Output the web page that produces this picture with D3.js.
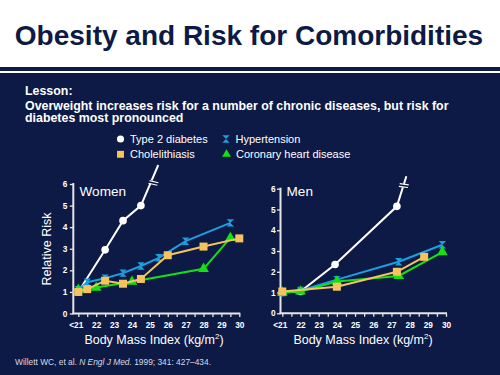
<!DOCTYPE html>
<html><head><meta charset="utf-8">
<script src="https://cdn.jsdelivr.net/npm/d3@7"></script>
<style>
html,body{margin:0;padding:0;background:#fff;}
svg{display:block;font-family:"Liberation Sans",Arial,Helvetica,sans-serif;}
</style></head>
<body>
<svg id="c" width="500" height="375"></svg>
<script>
// ---------- data ----------
const bmiTickValues = [21,22,23,24,25,26,27,28,29,30];
const bmiTickLabels = ["<21","22","23","24","25","26","27","28","29","30"];
const riskTicks = [0,1,2,3,4,5,6];

// Women
const womenDiabetes     = [[21,1.0],[22.5,2.95],[23.5,4.3],[24.5,5.0]];
const womenDiabetesCont = [25.47,6.88];   // line continues off the scale
const womenDiabetesBreak = [25.2,6.05];
const womenHypertension = [[21,1.1],[21.5,1.45],[22.5,1.63],[23.5,1.87],[24.5,2.2],[25.5,2.58],[27,3.35],[29.5,4.2]];
const womenCholelith    = [[21,1.0],[21.5,1.13],[22.5,1.52],[23.5,1.38],[24.5,1.6],[26,2.7],[28,3.1],[30,3.48]];
const womenCHD          = [[21,1.1],[22,1.2],[24,1.47],[28,2.07],[29.5,3.5]];

// Men
const menDiabetes     = [[21,1.0],[22,1.05],[23.9,2.35],[27.3,5.15]];
const menDiabetesCont = [27.82,6.6];
const menDiabetesBreak = [27.68,6.15];
const menHypertension = [[21,1.0],[22,1.1],[24,1.62],[27.4,2.48],[29.8,3.3]];
const menCholelith    = [[21,1.05],[24,1.28],[27.3,2.0],[28.8,2.72]];
const menCHD          = [[21,1.0],[22,1.05],[24,1.53],[27.4,1.8],[29.8,2.95]];

const legendItems = [
  {name:"Type 2 diabetes", key:"diab"},
  {name:"Hypertension", key:"hyp"},
  {name:"Cholelithiasis", key:"chol"},
  {name:"Coronary heart disease", key:"chd"}
];

// ---------- styles ----------
const NAVY = "#0c1a45";
const COLORS = {diab:"#ffffff", hyp:"#1d9fe0", chol:"#f6c35e", chd:"#14e014"};
const AXIS = "#e6e6e6";

const svg = d3.select("#c");

// background / header
svg.append("rect").attr("x",0).attr("y",0).attr("width",500).attr("height",375).attr("fill",NAVY);
svg.append("rect").attr("x",0).attr("y",0).attr("width",500).attr("height",67).attr("fill","#ffffff");
svg.append("rect").attr("x",0).attr("y",71).attr("width",500).attr("height",2).attr("fill","#ffffff");

svg.append("text").attr("x",249).attr("y",45).attr("text-anchor","middle")
  .attr("font-size",28).attr("font-weight","bold").attr("fill",NAVY)
  .text("Obesity and Risk for Comorbidities");

const lesson = svg.append("g").attr("fill","#ffffff").attr("font-weight","bold").attr("font-size",12.4);
lesson.append("text").attr("x",25).attr("y",94.5).text("Lesson:");
lesson.append("text").attr("x",25).attr("y",109.5).text("Overweight increases risk for a number of chronic diseases, but risk for");
lesson.append("text").attr("x",25).attr("y",122).text("diabetes most pronounced");

// markers
const hourglass = "M-3.7,-3.7H3.7L-3.7,3.7H3.7Z";
function markerPath(key){
  if(key==="diab") return d3.symbol(d3.symbolCircle, 46)();
  if(key==="chol") return d3.symbol(d3.symbolSquare, 64)();
  if(key==="chd")  return d3.symbol(d3.symbolTriangle, 50)();
  return hourglass;
}

// legend
const legPos = [[120.5,139],[226,139],[120.5,154.3],[226.5,154.3]];
legendItems.forEach((it,i)=>{
  const [lx,ly] = legPos[i];
  const g = svg.append("g");
  let p = markerPath(it.key);
  if(it.key==="chol") p = d3.symbol(d3.symbolSquare, 48)();
  if(it.key==="chd") p = d3.symbol(d3.symbolTriangle, 34)();
  if(it.key==="diab") p = d3.symbol(d3.symbolCircle, 40)();
  g.append("path").attr("d",p).attr("transform",`translate(${lx},${ly})`).attr("fill",COLORS[it.key]);
  g.append("text").attr("x",lx+9.5).attr("y",ly+4).attr("font-size",11).attr("fill","#ffffff").text(it.name);
});

function drawPanel(cfg){
  const x = d3.scaleLinear().domain([21,30]).range(cfg.xr);
  const y = d3.scaleLinear().domain([0,6]).range(cfg.yr);
  const g = svg.append("g");

  // axes lines
  g.append("line").attr("x1",cfg.ax).attr("x2",cfg.ax).attr("y1",y(0)).attr("y2",y(6)-1)
    .attr("stroke",AXIS).attr("stroke-width",2);
  g.append("line").attr("x1",cfg.ax-1).attr("x2",x(30)+1).attr("y1",y(0)).attr("y2",y(0))
    .attr("stroke",AXIS).attr("stroke-width",2);

  // x ticks (every half unit)
  const halfTicks = d3.range(21,30.01,0.5);
  const xAxis = d3.axisBottom(x).tickValues(halfTicks).tickSize(3.5)
    .tickFormat(d=>{const i=bmiTickValues.indexOf(d); return i>=0?bmiTickLabels[i]:"";});
  const xa = g.append("g").attr("transform",`translate(0,${y(0)})`).call(xAxis);
  xa.select(".domain").remove();
  xa.selectAll("line").attr("stroke",AXIS).attr("stroke-width",1.3);
  xa.selectAll("text").attr("fill","#ffffff").attr("font-size",8.3).attr("font-weight","bold")
    .attr("font-family","Liberation Sans, Arial, sans-serif").attr("dy","0.95em");
  xa.selectAll("text").filter(d=>d===21).attr("dx",-2.5);

  // y ticks
  const yAxis = d3.axisLeft(y).tickValues(riskTicks).tickSize(3.5).tickFormat(d3.format("d"));
  const ya = g.append("g").attr("transform",`translate(${cfg.ax},0)`).call(yAxis);
  ya.select(".domain").remove();
  ya.selectAll("line").attr("stroke",AXIS).attr("stroke-width",1.3);
  ya.selectAll("text").attr("fill","#ffffff").attr("font-size",8.3).attr("font-weight","bold")
    .attr("font-family","Liberation Sans, Arial, sans-serif").attr("x",cfg.ylx);

  // panel title
  g.append("text").attr("x",cfg.titleX).attr("y",196).attr("font-size",13.6).attr("fill","#ffffff").text(cfg.title);

  // x label
  const xl = g.append("text").attr("x",cfg.xlabelX).attr("y",344).attr("text-anchor","middle")
    .attr("font-size",12.5).attr("fill","#ffffff");
  xl.append("tspan").text("Body Mass Index (kg/m");
  xl.append("tspan").attr("font-size",8).attr("dy",-5).text("2");
  xl.append("tspan").attr("dy",5).text(")");

  const line = d3.line().x(d=>x(d[0])).y(d=>y(d[1]));

  // diabetes with continuation + break mark
  const dPts = cfg.series.diab.concat([cfg.diabCont]);
  g.append("path").attr("d",line(dPts)).attr("fill","none").attr("stroke",COLORS.diab).attr("stroke-width",2);
  const last = cfg.series.diab[cfg.series.diab.length-1];
  const ang = Math.atan2(y(cfg.diabCont[1])-y(last[1]), x(cfg.diabCont[0])-x(last[0]))*180/Math.PI;
  const bg = g.append("g").attr("transform",`translate(${x(cfg.diabBreak[0])},${y(cfg.diabBreak[1])}) rotate(${ang})`);
  bg.append("rect").attr("x",-1.8).attr("y",-4.5).attr("width",3.6).attr("height",9).attr("fill",NAVY);
  bg.append("line").attr("x1",-2.2).attr("x2",-0.6).attr("y1",-4.5).attr("y2",4.5).attr("stroke","#ffffff").attr("stroke-width",1.1);
  bg.append("line").attr("x1",0.6).attr("x2",2.2).attr("y1",-4.5).attr("y2",4.5).attr("stroke","#ffffff").attr("stroke-width",1.1);

  cfg.order.forEach(key=>{
    const data = cfg.series[key];
    if(key!=="diab"){
      g.append("path").attr("d",line(data)).attr("fill","none").attr("stroke",COLORS[key]).attr("stroke-width",2);
    }
    g.selectAll(null).data(data).enter().append("path")
      .attr("d",markerPath(key))
      .attr("transform",d=>`translate(${x(d[0])},${y(d[1])})`)
      .attr("fill",COLORS[key]);
  });
}

drawPanel({
  title:"Women", titleX:79.5, xr:[78.3,239.3], yr:[313.5,184], ax:73.3, ylx:-6,
  xlabelX:154,
  series:{diab:womenDiabetes, hyp:womenHypertension, chol:womenCholelith, chd:womenCHD},
  diabCont:womenDiabetesCont, diabBreak:womenDiabetesBreak,
  order:["diab","hyp","chd","chol"]
});
drawPanel({
  title:"Men", titleX:286.5, xr:[282.3,446], yr:[313.3,188.7], ax:280.5, ylx:-5,
  xlabelX:363,
  series:{diab:menDiabetes, hyp:menHypertension, chol:menCholelith, chd:menCHD},
  diabCont:menDiabetesCont, diabBreak:menDiabetesBreak,
  order:["diab","hyp","chd","chol"]
});

// y label (Women panel)
svg.append("text").attr("transform","translate(51,249) rotate(-90)").attr("text-anchor","middle")
  .attr("font-size",12.5).attr("fill","#ffffff").text("Relative Risk");

// footnote
const fn = svg.append("text").attr("x",15).attr("y",365).attr("font-size",8.4).attr("fill","#d8dbe4");
fn.append("tspan").text("Willett WC, et al. ");
fn.append("tspan").attr("font-style","italic").text("N Engl J Med.");
fn.append("tspan").text(" 1999; 341: 427\u2013434.");
</script>
</body></html>
